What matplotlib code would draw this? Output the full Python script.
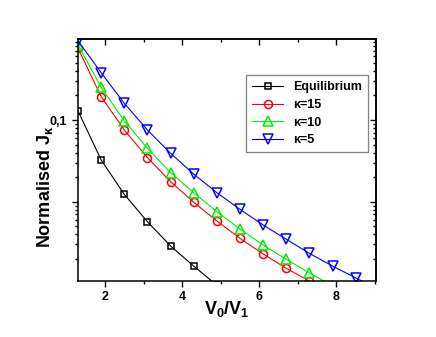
import matplotlib
matplotlib.use("Agg")
import matplotlib.pyplot as plt
from matplotlib.ticker import FixedLocator, FuncFormatter, LogLocator, MultipleLocator, NullFormatter

plt.rcParams["font.family"] = ["Liberation Sans", "DejaVu Sans"]
plt.rcParams["font.weight"] = "bold"
plt.rcParams["mathtext.fontset"] = "custom"
plt.rcParams["mathtext.rm"] = "Liberation Sans:bold"
plt.rcParams["mathtext.it"] = "Liberation Sans:bold"
plt.rcParams["mathtext.bf"] = "Liberation Sans:bold"

# V0/V1 sample points (shared grid, each series uses its first n values)
v_ratio = [1.3, 1.9, 2.5, 3.1, 3.7, 4.3, 4.9, 5.5, 6.1, 6.7, 7.3, 7.9, 8.5, 9.1]

j_equilibrium = [0.129, 0.0324, 0.0123, 0.00569, 0.00287, 0.00163, 0.00095]
j_kappa15 = [0.755, 0.193, 0.0755, 0.0346, 0.0176, 0.00984, 0.00581, 0.00356,
             0.00229, 0.00153, 0.00107]
j_kappa10 = [0.828, 0.251, 0.0972, 0.0451, 0.0227, 0.0129, 0.00755, 0.00463,
             0.00295, 0.00197, 0.00135, 0.00093]
j_kappa5 = [0.93, 0.379, 0.160, 0.0755, 0.0391, 0.0218, 0.0129, 0.00807,
            0.00519, 0.00347, 0.00233, 0.00163, 0.00117, 0.00083]

series = [
    ("Equilibrium", j_equilibrium, "black", "s", 4.8),
    ("\u03ba=15", j_kappa15, "#ff0000", "o", 5.8),
    ("\u03ba=10", j_kappa10, "#00ee00", "^", 6.6),
    ("\u03ba=5", j_kappa5, "#0000ff", "v", 6.6),
]

fig = plt.figure(figsize=(4.36, 3.37), dpi=100)
ax = fig.add_axes([0.178, 0.166, 0.684, 0.718])

for label, yvals, color, marker, ms in series:
    ax.plot(v_ratio[:len(yvals)], yvals, color=color, lw=0.8, marker=marker,
            ms=ms, mfc="none", mec=color, mew=1.1, label=label)

ax.set_yscale("log")
ax.set_xlim(1.288, 9.02)
ax.set_ylim(0.00107, 0.98)

ax.xaxis.set_major_locator(FixedLocator([2, 4, 6, 8]))
ax.xaxis.set_minor_locator(MultipleLocator(1))
ax.yaxis.set_major_locator(LogLocator(base=10))
ax.yaxis.set_minor_locator(LogLocator(base=10, subs=range(2, 10)))
ax.yaxis.set_major_formatter(FuncFormatter(lambda v, p: "0,1" if abs(v - 0.1) < 1e-9 else ""))
ax.yaxis.set_minor_formatter(NullFormatter())

ax.tick_params(which="both", direction="out", width=1.0, labelsize=9)
ax.tick_params(which="major", length=4)
ax.tick_params(which="minor", length=2.3)
for s in ax.spines.values():
    s.set_linewidth(1.1)

# mirrored axes, ticks pointing inward, no labels
top = ax.secondary_xaxis("top")
top.xaxis.set_major_locator(FixedLocator([2, 4, 6, 8]))
top.xaxis.set_minor_locator(MultipleLocator(1))
top.tick_params(which="both", direction="in", labeltop=False, width=1.0)
top.tick_params(which="major", length=4)
top.tick_params(which="minor", length=2.3)
right = ax.secondary_yaxis("right")
right.set_yscale("log")
right.yaxis.set_major_locator(LogLocator(base=10))
right.yaxis.set_minor_locator(LogLocator(base=10, subs=range(2, 10)))
right.yaxis.set_minor_formatter(NullFormatter())
right.tick_params(which="both", direction="in", labelright=False, width=1.0)
right.tick_params(which="major", length=4)
right.tick_params(which="minor", length=2.3)
for sec in (top, right):
    for s in sec.spines.values():
        s.set_linewidth(1.1)

ax.set_xlabel(r"V$_0$/V$_1$", fontsize=13, fontweight="bold", labelpad=-3)
fig.text(45 / 436, 1 - 187 / 337, "Normalised J$_\u03ba$", rotation=90, fontsize=13,
         fontweight="bold", ha="center", va="center")

leg = ax.legend(loc="upper left", bbox_to_anchor=(245.7 / 436, 1 - 75 / 337),
                bbox_transform=fig.transFigure, borderaxespad=0, fancybox=False,
                edgecolor="#808080", handlelength=2.5, labelspacing=0.45,
                borderpad=0.5, prop={"size": 9, "weight": "bold"}, framealpha=1)
leg.get_frame().set_linewidth(0.9)

fig.savefig("out.png", dpi=100)
